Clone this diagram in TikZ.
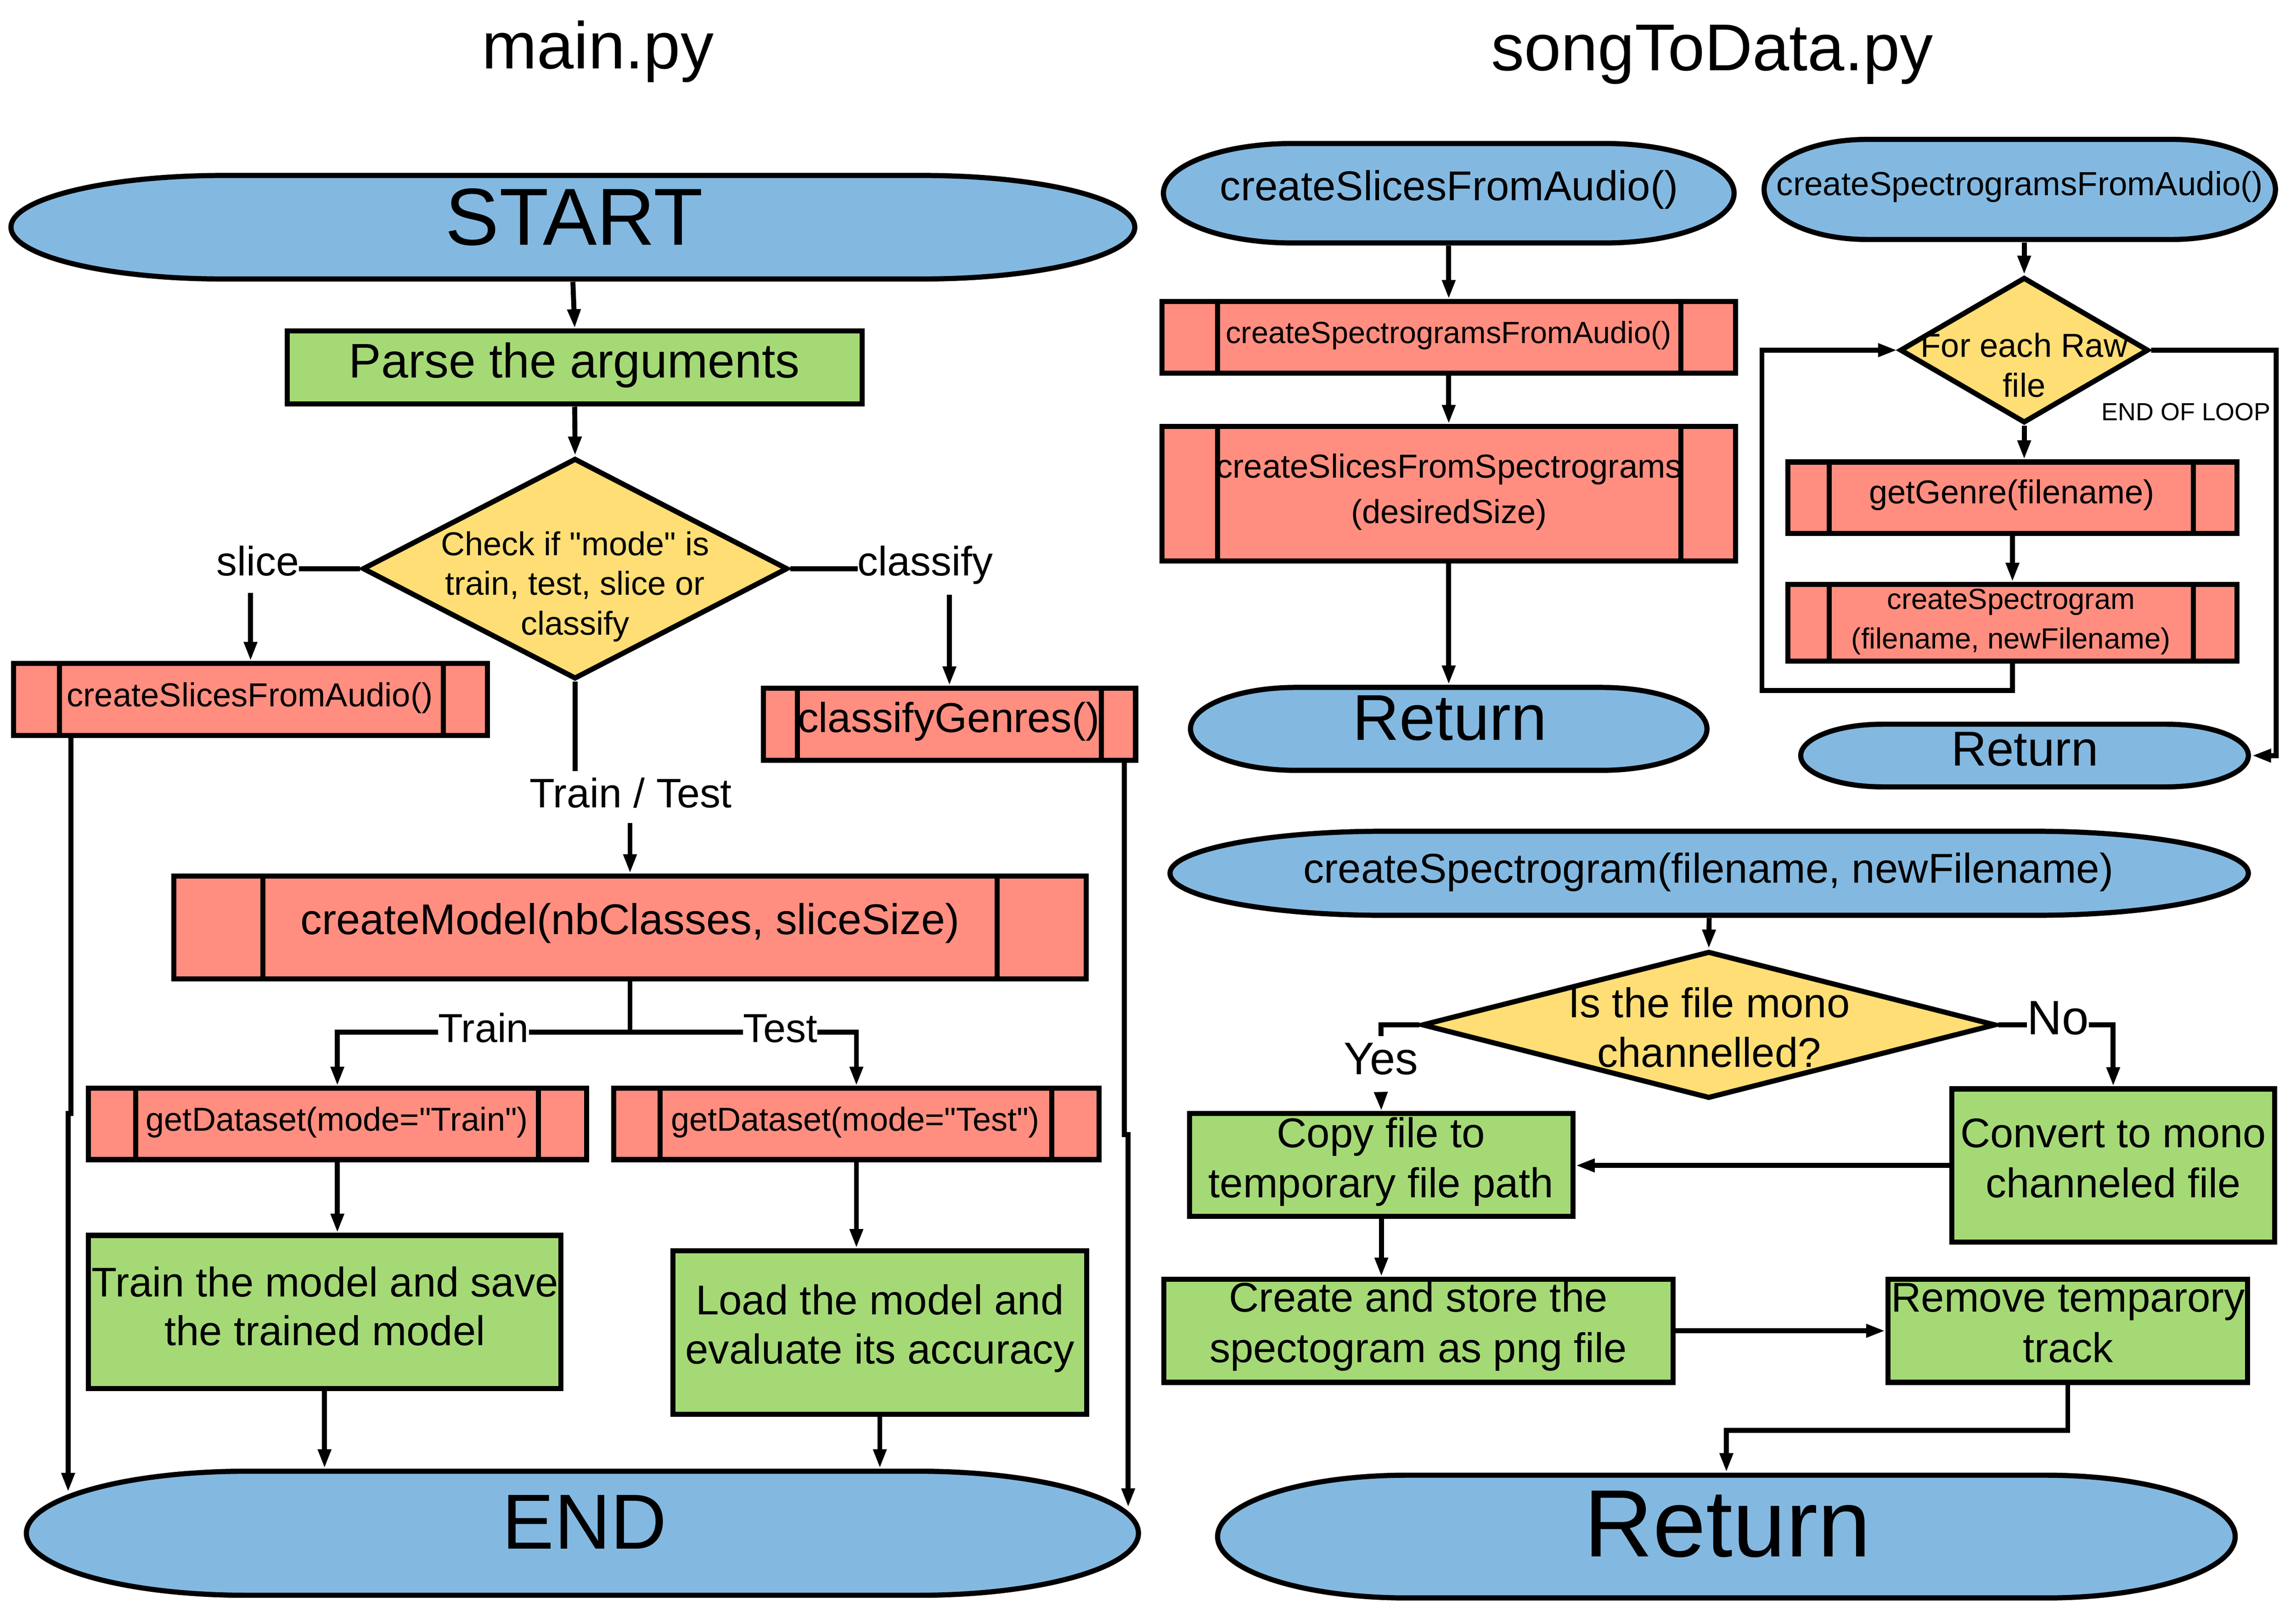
\documentclass[tikz,border=0pt]{standalone}
\usepackage{fontspec}
\setmainfont{Liberation Sans}[Ligatures=TeXOff]
\usetikzlibrary{arrows.meta,shapes.geometric}
\definecolor{cblue}{RGB}{131,185,225}
\definecolor{cgreen}{RGB}{165,217,118}
\definecolor{csalmon}{RGB}{255,142,128}
\definecolor{cyellow}{RGB}{255,222,117}
\newcommand\fsz[2]{\fontsize{#1}{#2}\selectfont}
% terminator: name, cx, cy, half width, half height, end x-radius
\newcommand\term[6]{%
  \path[termstyle] ({#2-#4+#6},{#3-#5}) -- ({#2+#4-#6},{#3-#5})
    arc[start angle=-90,end angle=90,x radius=#6,y radius=#5]
    -- ({#2-#4+#6},{#3+#5})
    arc[start angle=90,end angle=270,x radius=#6,y radius=#5] -- cycle;
  \node[inner sep=0pt, outer sep=1.75pt, minimum width={2*#4}, minimum height={2*#5}] (#1) at (#2,#3) {};
}
% predefined process: name, cx, cy, w, h, left offset, right offset
\newcommand\proc[7]{%
  \node[procbox, minimum width=#4, minimum height=#5] (#1) at (#2,#3) {};
  \draw[part] ([xshift=#6pt]#1.north west) -- ([xshift=#6pt]#1.south west);
  \draw[part] ([xshift=-#7pt]#1.north east) -- ([xshift=-#7pt]#1.south east);
}
\begin{document}
\begin{tikzpicture}[x=1pt,y=-1pt,
  termstyle/.style={fill=cblue, draw=black, line width=3.5pt},
  procbox/.style={draw=black, fill=csalmon, line width=3.5pt, inner sep=0pt},
  actbox/.style={draw=black, fill=cgreen, line width=3.5pt, inner sep=0pt},
  decbox/.style={diamond, draw=black, fill=cyellow, line width=3.5pt, inner sep=0pt},
  txt/.style={inner sep=0pt, outer sep=0pt, text depth=0pt, anchor=south, align=center},
  conn/.style={line width=3.4pt},
  arr/.style={conn, -{Triangle[length=13pt,width=8.5pt]}},
  part/.style={line width=3.4pt},
  qlt/.style={xscale=0.9955, yscale=0.9949},
  qlb/.style={shift={(0,2.79)}, xscale=0.9955, yscale=0.9949},
  qrt/.style={shift={(3.51,0)}, xscale=0.9955, yscale=0.9949},
  qrb/.style={shift={(3.51,2.79)}, xscale=0.9955, yscale=0.9949}
]
\fill[white] (0,0) rectangle (1560,1095.07);
\useasboundingbox (0,0) rectangle (1560,1095.07);

% ================= main.py, upper part
\begin{scope}[qlt]
\node[txt, font=\fsz{45}{54}] (title1) at (408,47) {main.py};
\term{start}{391}{155.15}{383.5}{35.35}{145}
\node[actbox, minimum width=390.5, minimum height=49.7] (parse) at (392.25,250.95) {};
\node[decbox, minimum width=289, minimum height=150] (d1) at (392.5,388.3) {};
\proc{sb}{171}{477.65}{322}{48.9}{33}{32}
\proc{cg}{648}{494.5}{253}{49}{25}{25}
\node[txt, font=\fsz{55}{66}] (tstart) at (392,167.4) {START};
\node[txt, font=\fsz{33}{40}] (tparse) at (392,258) {Parse the arguments};
\node[txt, font=\fsz{22.5}{27}] (td1) at (392.5,433.5) {Check if "mode" is\\train, test, slice or\\classify};
\node[txt, font=\fsz{28}{34}] (slicel) at (176,393) {slice};
\node[txt, font=\fsz{28}{34}] (classl) at (631.5,393) {classify};
\node[txt, font=\fsz{22.6}{27}] (tsb) at (170.5,482.6) {createSlicesFromAudio()};
\node[txt, font=\fsz{28.4}{34}] (tcg) at (647.5,500) {classifyGenres()};
\node[txt, font=\fsz{28}{34}] (ttlbl) at (430.5,551.5) {Train / Test};
\coordinate (slicea) at (171,405);
\coordinate (classa) at (648,406);
\coordinate (ttl) at (392.5,526.5);
\end{scope}

% ================= main.py, lower part
\begin{scope}[qlb]
\proc{cm}{430}{630.5}{620}{70}{62.5}{62.5}
\proc{gtr}{230.25}{764.7}{338.5}{48.4}{34}{34.5}
\proc{gte}{584.5}{764.7}{330}{48.4}{33.5}{34}
\node[actbox, minimum width=321, minimum height=104.1] (tm) at (221.5,893.05) {};
\node[actbox, minimum width=281, minimum height=111] (ld) at (600.5,907) {};
\term{end}{397.5}{1044.15}{379.5}{42.35}{150}
\node[txt, font=\fsz{29.2}{35}] (tcm) at (430,635.3) {createModel(nbClasses, sliceSize)};
\node[txt, font=\fsz{27.5}{33}] (trainl) at (330,709) {Train};
\node[txt, font=\fsz{27.5}{33}] (testl) at (532.5,709) {Test};
\node[txt, font=\fsz{22.5}{27}] (tgtr) at (230,769.3) {getDataset(mode="Train")};
\node[txt, font=\fsz{22.5}{27}] (tgte) at (583.75,769.3) {getDataset(mode="Test")};
\node[txt, font=\fsz{28.2}{33.3}] (ttm) at (221.75,916) {Train the model and save\\the trained model};
\node[txt, font=\fsz{28.3}{33.3}] (tld) at (600.5,928.3) {Load the model and\\evaluate its accuracy};
\node[txt, font=\fsz{53}{64}] (tend) at (399,1054.7) {END};
\coordinate (tta) at (430,559);
\coordinate (split) at (430,702);
\coordinate (ljog) at (48.5,757.4);
\coordinate (lle) at (46.5,1016);
\coordinate (rjog) at (767.5,772);
\coordinate (rle) at (770,1026.5);
\end{scope}

% ================= songToData.py, upper part
\begin{scope}[qrt]
\node[txt, font=\fsz{45}{54}] (title2) at (1165,48) {songToData.py};
\term{csa}{985.25}{131.95}{194.75}{33.95}{88}
\proc{sp1}{985.25}{230.4}{389.5}{48.6}{39.5}{39}
\proc{sp2}{985.25}{337.15}{389.5}{91.3}{39.5}{39}
\term{ret1}{985.25}{497.7}{176.25}{28.3}{72}
\term{csfa}{1375}{129.35}{174.5}{34.15}{70}
\node[decbox, minimum width=169, minimum height=99] (d2) at (1378,239.1) {};
\proc{gg}{1370}{339.9}{305}{48.6}{30}{31.5}
\proc{cs}{1370}{425.25}{305}{52.1}{30}{31.5}
\term{ret2}{1378.25}{515.9}{152.75}{21.4}{56}
\node[txt, font=\fsz{28.3}{34}] (tcsa) at (985.5,136.9) {createSlicesFromAudio()};
\node[txt, font=\fsz{20.8}{25}] (tsp1) at (985.25,234.5) {createSpectrogramsFromAudio()};
\node[txt, font=\fsz{22.6}{31}] (tsp2) at (985.5,357.3) {createSlicesFromSpectrograms\\(desiredSize)};
\node[txt, font=\fsz{44}{53}] (tret1) at (986,505.4) {Return};
\node[txt, font=\fsz{22.7}{27}] (tcsfa) at (1375,133.4) {createSpectrogramsFromAudio()};
\node[txt, font=\fsz{22.6}{27}] (td2) at (1378,271) {For each Raw\\file};
\node[txt, font=\fsz{16.8}{20}] (eol) at (1488.5,287) {END OF LOOP};
\node[txt, font=\fsz{22.5}{27}] (tgg) at (1369.5,344) {getGenre(filename)};
\node[txt, font=\fsz{19.8}{27}] (tcs) at (1369,443) {createSpectrogram\\(filename, newFilename)};
\node[txt, font=\fsz{33.3}{40}] (tret2) at (1378.5,523) {Return};
\coordinate (loopa) at (1199,471.4);
\coordinate (eolc) at (1550,516);
\end{scope}

% ================= songToData.py, lower part
\begin{scope}[qrb]
\term{csg}{1163}{593.5}{368}{28.7}{146}
\node[decbox, minimum width=390, minimum height=100] (d3) at (1162.75,697) {};
\node[actbox, minimum width=260.5, minimum height=69.7] (cp) at (939.25,792.65) {};
\node[actbox, minimum width=219.5, minimum height=104] (cv) at (1438.75,793) {};
\node[actbox, minimum width=346, minimum height=70] (cr) at (964.5,905.9) {};
\node[actbox, minimum width=244.5, minimum height=70] (rm) at (1407.75,905.9) {};
\term{ret3}{1174.75}{1046.4}{347.25}{41.9}{129}
\node[txt, font=\fsz{28.3}{34}] (tcsg) at (1162.5,600.2) {createSpectrogram(filename, newFilename)};
\node[txt, font=\fsz{28.2}{33.7}] (td3) at (1163,725.8) {Is the file mono\\channelled?};
\node[txt, font=\fsz{31}{37}] (yesl) at (939,730.7) {Yes};
\node[txt, font=\fsz{32.8}{39}] (nol) at (1401,703.7) {No};
\node[txt, font=\fsz{28.3}{34}] (tcp) at (939,815) {Copy file to\\temporary file path};
\node[txt, font=\fsz{28.1}{34}] (tcv) at (1438.75,815) {Convert to mono\\channeled file};
\node[txt, font=\fsz{28.2}{34.4}] (tcr) at (964.5,927.6) {Create and store the\\spectogram as png file};
\node[txt, font=\fsz{28.3}{34.4}] (trm) at (1408,927.6) {Remove temparory\\track};
\node[txt, font=\fsz{65}{78}] (tret3) at (1175.5,1060) {Return};
\coordinate (yest) at (939,704.7);
\coordinate (yesa) at (939,746.5);
\end{scope}

% ---------------- connectors main.py
\draw[arr] (start.south) -- (parse.north);
\draw[arr] (parse.south) -- (d1.north);
\draw[conn] (d1.west) -- (d1.west -| slicel.east);
\draw[arr] (slicea) -- (sb.north);
\draw[conn] (d1.east) -- (d1.east -| classl.west);
\draw[arr] (classa) -- (cg.north);
\draw[conn] (d1.south) -- (ttl);
\draw[arr] (tta) -- (cm.north);
\draw[conn] (cm.south) -- (split);
\draw[conn] (split) -- (split -| trainl.east);
\draw[arr] (split -| trainl.west) -| (gtr.north);
\draw[conn] (split) -- (split -| testl.west);
\draw[arr] (split -| testl.east) -| (gte.north);
\draw[arr] (gtr.south) -- (gtr.south |- tm.north);
\draw[arr] (gte.south) -- (gte.south |- ld.north);
\draw[arr] (tm.south) -- (tm.south |- end.north);
\draw[arr] (ld.south) -- (ld.south |- end.north);
\draw[arr] (sb.south -| ljog) -- (ljog) -| (lle);
\draw[arr] (cg.south -| rjog) -- (rjog) -| (rle);

% ---------------- connectors songToData.py
\draw[arr] (csa.south) -- (sp1.north);
\draw[arr] (sp1.south) -- (sp2.north);
\draw[arr] (sp2.south) -- (ret1.north);
\draw[arr] (csfa.south -| d2.north) -- (d2.north);
\draw[arr] (d2.south) -- (d2.south |- gg.north);
\draw[arr] (gg.south) -- (cs.north);
\draw[arr] (cs.south) |- (loopa) |- (d2.west);
\draw[arr] (d2.east) -| (eolc) -- (ret2.east);
\draw[arr] (csg.south) -- (d3.north);
\draw[conn] (d3.west) -| (yest);
\draw[arr] (yesa) -- (cp.north);
\draw[conn] (d3.east) -- (d3.east -| nol.west);
\draw[arr] (d3.east -| nol.east) -| (cv.north);
\draw[arr] (cv.west) -- (cv.west -| cp.east);
\draw[arr] (cp.south) -- (cp.south |- cr.north);
\draw[arr] (cr.east) -- (cr.east -| rm.west);
\draw[arr] (rm.south) -- ++(0,31) -| (ret3.north);
\end{tikzpicture}
\end{document}
